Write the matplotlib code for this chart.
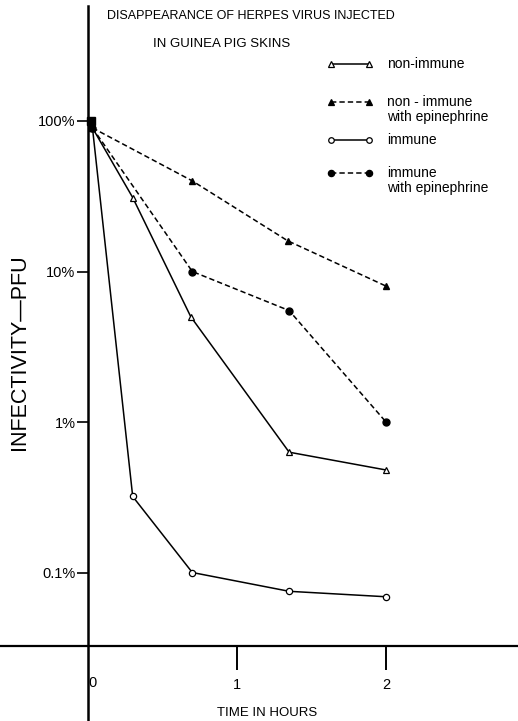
import matplotlib

matplotlib.use("Agg")
import matplotlib.pyplot as plt
from matplotlib.lines import Line2D

plt.rcParams["font.family"] = ["Liberation Sans", "DejaVu Sans"]

# data (time in hours, infectivity in % of inoculum)
t_non_immune = [0.03, 0.30, 0.69, 1.35, 2.0]
v_non_immune = [90, 31, 5.0, 0.63, 0.48]

t_non_immune_epi = [0.03, 0.70, 1.34, 2.0]
v_non_immune_epi = [90, 40, 16, 8.0]

t_immune = [0.03, 0.30, 0.70, 1.35, 2.0]
v_immune = [90, 0.32, 0.10, 0.075, 0.069]

t_immune_epi = [0.03, 0.70, 1.35, 2.0]
v_immune_epi = [90, 10, 5.5, 1.0]

y_ticks = [0.1, 1, 10, 100]
y_ticklabels = ["0.1%", "1%", "10%", "100%"]

W, H = 518, 721


def px(x, y):
    return x / W, 1 - y / H


fig = plt.figure(figsize=(W / 100, H / 100), dpi=100, facecolor="white")
ax = fig.add_axes([0, 0, 1, 1])
ax.set_facecolor("white")
ax.set_yscale("log")

# 0 h at x=88px, 149 px per hour; 1% at y=422px, 150.5 px per decade
ax.set_xlim(-88 / 149, (W - 88) / 149)
ax.set_ylim(10 ** ((422 - H) / 150.5), 10 ** (422 / 150.5))

dash = (0, (3.5, 2))
ax.plot(t_non_immune, v_non_immune, color="black", lw=1.1, ls="-",
        marker="^", ms=4.5, mfc="white", mec="black", mew=0.9)
ax.plot(t_non_immune_epi, v_non_immune_epi, color="black", lw=1.1, ls=dash,
        marker="^", ms=5, mfc="black", mec="black")
ax.plot(t_immune, v_immune, color="black", lw=1.1, ls="-",
        marker="o", ms=4.5, mfc="white", mec="black", mew=0.9)
ax.plot(t_immune_epi, v_immune_epi, color="black", lw=1.1, ls=dash,
        marker="o", ms=5, mfc="black", mec="black")
ax.plot([0.02], [100], marker="s", ms=6, color="black", ls="none")

for side in ("top", "right"):
    ax.spines[side].set_visible(False)
ax.spines["left"].set_position(("data", 0))
ax.spines["left"].set_bounds(10 ** ((422 - H) / 150.5), 10 ** ((422 - 6) / 150.5))
ax.spines["left"].set_linewidth(1.8)
ax.spines["bottom"].set_position(("data", 10 ** ((422 - 646) / 150.5)))
ax.spines["bottom"].set_linewidth(1.6)

ax.set_yticks(y_ticks, y_ticklabels, fontsize=10.5)
ax.yaxis.set_minor_locator(matplotlib.ticker.NullLocator())
ax.tick_params(axis="y", direction="out", length=8, width=1.2, pad=1)
ax.set_xticks([1, 2], ["1", "2"], fontsize=10.5)
ax.tick_params(axis="x", direction="out", length=17, width=1.4, pad=6)
ax.text(0.0, 10 ** ((422 - 683) / 150.5), "0", fontsize=10.5, ha="left", va="center")

fig.text(*px(20, 352), "INFECTIVITY\u2014PFU", rotation=90, ha="center", va="center",
         fontsize=15.5)
fig.text(*px(267, 713), "TIME IN HOURS", fontsize=9.5, ha="center", va="center")
fig.text(*px(107, 16), "DISAPPEARANCE OF HERPES VIRUS INJECTED", fontsize=9, ha="left", va="center")
fig.text(*px(153, 44), "IN GUINEA PIG SKINS", fontsize=9.5, ha="left", va="center")

# hand-drawn legend, top right
legend = [
    ("-", "^", "white", 4.5, 64, ["non-immune"]),
    (dash, "^", "black", 5, 102, ["non - immune", "with epinephrine"]),
    ("-", "o", "white", 4.5, 140, ["immune"]),
    (dash, "o", "black", 5, 173, ["immune", "with epinephrine"]),
]
for ls, mk, fc, ms, ypx, lines in legend:
    x0, y0 = px(331, ypx)
    x1, _ = px(369, ypx)
    fig.add_artist(Line2D([x0, x1], [y0, y0], transform=fig.transFigure, color="black",
                          lw=1.1, ls=ls, marker=mk, ms=ms - 0.5, mfc=fc, mec="black", mew=0.9))
    for i, line in enumerate(lines):
        fig.text(*px(387, ypx + 15 * i), line, fontsize=10, ha="left", va="center")

fig.savefig("out.png", dpi=100, facecolor="white")
